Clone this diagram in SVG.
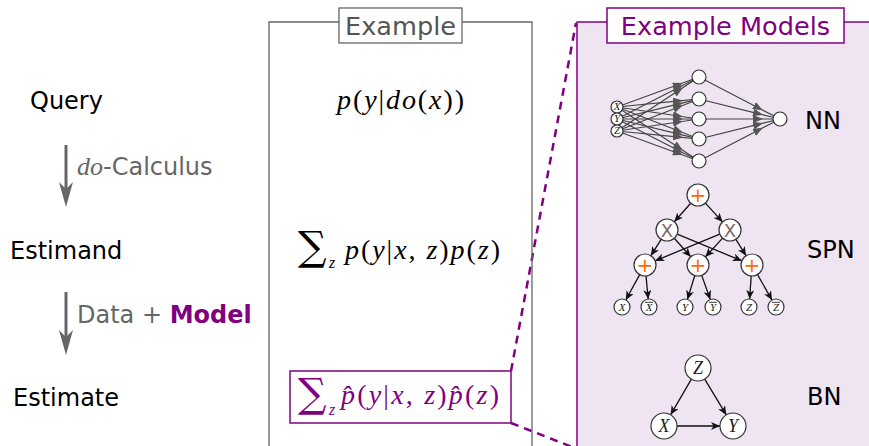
<svg xmlns="http://www.w3.org/2000/svg" width="869" height="446" viewBox="0 0 869 446">
<style>
.lbl{font-family:"DejaVu Sans",sans-serif;font-size:24px;fill:#000}
.glbl{font-family:"DejaVu Sans",sans-serif;font-size:24px;fill:#666}
.math{font-family:"Liberation Serif",serif;font-size:28px}
.mi{font-style:italic}
.node{fill:#fff;stroke:#333;stroke-width:1.2}
.nne{stroke:#444;stroke-width:1.2;fill:none;marker-mid:url(#nnarrow)}
.spe{stroke:#111;stroke-width:1.3;fill:none;marker-end:url(#sparrow)}
.leaf{font-family:"Liberation Serif",serif;font-style:italic;font-size:11px;fill:#222;text-anchor:middle}
.bnl{font-family:"Liberation Serif",serif;font-style:italic;font-size:18px;fill:#222;text-anchor:middle}
.plus{font-family:"DejaVu Sans",sans-serif;font-size:20px;fill:#ff6a00;text-anchor:middle}
.times{font-family:"DejaVu Sans",sans-serif;font-size:18px;fill:#806868;text-anchor:middle}
.purple{fill:#800080}
.sum{font-family:"DejaVu Serif",serif;font-size:40px}
</style>
<defs>
<marker id="nnarrow" markerUnits="userSpaceOnUse" markerWidth="12" markerHeight="10" refX="9" refY="4" orient="auto">
<path d="M0,0 L10,4 L0,8 Z" fill="#555"/>
</marker>
<marker id="sparrow" markerUnits="userSpaceOnUse" markerWidth="12" markerHeight="10" refX="9" refY="4" orient="auto">
<path d="M0,0 L9,4 L0,8 L2.5,4 Z" fill="#111"/>
</marker>
</defs>

<g id="left-labels">
<text class="lbl" x="30" y="109">Query</text>
<text class="lbl" x="10" y="259">Estimand</text>
<text class="lbl" x="13" y="406">Estimate</text>
</g>

<g id="connectors">
<g id="arrow-do">
<line x1="66" y1="145" x2="66" y2="195" stroke="#666" stroke-width="3"/>
<path d="M66,207 L59,182 L66,189 L73,182 Z" fill="#666"/>
<text class="glbl" x="77" y="175"><tspan font-family="Liberation Serif" font-style="italic" font-size="26">do</tspan>-Calculus</text>
</g>
<g id="arrow-data">
<line x1="66" y1="292" x2="66" y2="343" stroke="#666" stroke-width="3"/>
<path d="M66,355 L59,330 L66,337 L73,330 Z" fill="#666"/>
<text class="glbl" x="77" y="323">Data + <tspan font-weight="bold" fill="#800080">Model</tspan></text>
</g>
<g id="zoom-lines" stroke="#800080" stroke-width="2.5" stroke-dasharray="8,6" fill="none">
<line x1="511" y1="371" x2="576" y2="23"/>
<line x1="511" y1="423" x2="580" y2="450"/>
</g>
</g>

<g id="example-panel">
<path d="M269,446 V22 H339 M462,22 H532 V446" fill="none" stroke="#666" stroke-width="1.3"/>
<rect x="339" y="8" width="123" height="35" fill="#fff" stroke="#666" stroke-width="1.3"/>
<text x="400.5" y="35" text-anchor="middle" font-family="DejaVu Sans,sans-serif" font-size="25.6" fill="#555">Example</text>
</g>

<g id="query-formula">
<text class="math" x="337" y="109" textLength="127" lengthAdjust="spacing"><tspan class="mi">p</tspan>(<tspan class="mi">y</tspan>|<tspan class="mi">do</tspan>(<tspan class="mi">x</tspan>))</text>
</g>

<g id="estimand-formula">
<text x="298" y="260" class="sum">∑</text>
<text x="329" y="268" class="mi" font-family="Liberation Serif,serif" font-size="16">z</text>
<text class="math" x="345" y="259" textLength="155" lengthAdjust="spacing"><tspan class="mi">p</tspan>(<tspan class="mi">y</tspan>|<tspan class="mi">x</tspan>, <tspan class="mi">z</tspan>)<tspan class="mi">p</tspan>(<tspan class="mi">z</tspan>)</text>
</g>

<g id="estimate-formula">
<rect x="290" y="371" width="221" height="52" fill="#fff" stroke="#800080" stroke-width="1.5"/>
<text x="298" y="407" class="sum purple">∑</text>
<text x="329" y="415" font-family="Liberation Serif,serif" font-size="16" font-style="italic" class="purple">z</text>
<text class="math purple" x="341" y="404" textLength="158" lengthAdjust="spacing"><tspan class="mi">p̂</tspan>(<tspan class="mi">y</tspan>|<tspan class="mi">x</tspan>, <tspan class="mi">z</tspan>)<tspan class="mi">p̂</tspan>(<tspan class="mi">z</tspan>)</text>
</g>

<g id="models-panel">
<rect x="577" y="22" width="320" height="440" fill="#efe4f1" stroke="#800080" stroke-width="1.5"/>
<rect x="607" y="8" width="237" height="35" fill="#fff" stroke="#800080" stroke-width="1.5"/>
<text x="725.5" y="35" text-anchor="middle" font-family="DejaVu Sans,sans-serif" font-size="25.6" fill="#800080">Example Models</text>
</g>

<g id="nn">
<g id="nn-edges">
<path class="nne" d="M617,107 L682,83.3 L699,77"/>
<path class="nne" d="M617,107 L682,100.7 L699,99"/>
<path class="nne" d="M617,107 L682,116.5 L699,119"/>
<path class="nne" d="M617,107 L682,132.3 L699,139"/>
<path class="nne" d="M617,107 L682,149.7 L699,161"/>
<path class="nne" d="M617,119 L682,85.8 L699,77"/>
<path class="nne" d="M617,119 L682,103.2 L699,99"/>
<path class="nne" d="M617,119 L682,119 L699,119"/>
<path class="nne" d="M617,119 L682,134.8 L699,139"/>
<path class="nne" d="M617,119 L682,152.2 L699,161"/>
<path class="nne" d="M617,131 L682,88.3 L699,77"/>
<path class="nne" d="M617,131 L682,105.7 L699,99"/>
<path class="nne" d="M617,131 L682,121.5 L699,119"/>
<path class="nne" d="M617,131 L682,137.3 L699,139"/>
<path class="nne" d="M617,131 L682,154.7 L699,161"/>
<path class="nne" d="M699,77 L762,109.7 L780,119"/>
<path class="nne" d="M699,99 L762,114.6 L780,119"/>
<path class="nne" d="M699,119 L762,119 L780,119" stroke="#aaa"/>
<path class="nne" d="M699,139 L762,123.4 L780,119"/>
<path class="nne" d="M699,161 L762,128.2 L780,119"/>
</g>
<g id="nn-input">
<circle class="node" cx="617" cy="107" r="6"/>
<circle class="node" cx="617" cy="119" r="6"/>
<circle class="node" cx="617" cy="131" r="6"/>
<text class="leaf" x="617" y="110" font-size="9">X</text>
<text class="leaf" x="617" y="122" font-size="9">Y</text>
<text class="leaf" x="617" y="134" font-size="9">Z</text>
</g>
<g id="nn-hidden">
<circle class="node" cx="699" cy="77" r="7"/>
<circle class="node" cx="699" cy="99" r="7"/>
<circle class="node" cx="699" cy="119" r="7"/>
<circle class="node" cx="699" cy="139" r="7"/>
<circle class="node" cx="699" cy="161" r="7"/>
</g>
<g id="nn-output"><circle class="node" cx="780" cy="119" r="7"/></g>
<text class="lbl" x="805" y="129">NN</text>
</g>

<g id="spn">
<g id="spn-edges">
<line class="spe" x1="690.7" y1="203.2" x2="674.3" y2="221.8"/>
<line class="spe" x1="705.4" y1="203.1" x2="722.6" y2="221.9"/>
<line class="spe" x1="661.1" y1="239.3" x2="650.9" y2="255.7"/>
<line class="spe" x1="674.3" y1="238.2" x2="690.7" y2="256.8"/>
<line class="spe" x1="677.2" y1="234.2" x2="741.8" y2="260.8"/>
<line class="spe" x1="719.8" y1="234.2" x2="655.2" y2="260.8"/>
<line class="spe" x1="722.6" y1="238.1" x2="705.4" y2="256.9"/>
<line class="spe" x1="735.9" y1="239.3" x2="746.1" y2="255.7"/>
<line class="spe" x1="639.7" y1="274.6" x2="625.8" y2="300"/>
<line class="spe" x1="646" y1="275.9" x2="648.2" y2="299"/>
<line class="spe" x1="694.8" y1="275.5" x2="687.4" y2="299.4"/>
<line class="spe" x1="701.7" y1="275.4" x2="710.3" y2="299.5"/>
<line class="spe" x1="751.2" y1="276" x2="749.6" y2="299"/>
<line class="spe" x1="757.5" y1="274.5" x2="772" y2="300.1"/>
</g>
<g id="spn-root"><circle class="node" cx="698" cy="195" r="11"/><text class="plus" x="698" y="202">+</text></g>
<g id="spn-prod1"><circle class="node" cx="667" cy="230" r="11"/><text class="times" x="667" y="236.5">X</text></g>
<g id="spn-prod2"><circle class="node" cx="730" cy="230" r="11"/><text class="times" x="730" y="236.5">X</text></g>
<g id="spn-sum1"><circle class="node" cx="645" cy="265" r="11"/><text class="plus" x="645" y="272">+</text></g>
<g id="spn-sum2"><circle class="node" cx="698" cy="265" r="11"/><text class="plus" x="698" y="272">+</text></g>
<g id="spn-sum3"><circle class="node" cx="752" cy="265" r="11"/><text class="plus" x="752" y="272">+</text></g>
<g id="spn-leaves">
<circle class="node" cx="622" cy="307" r="8"/><text class="leaf" x="622" y="311">X</text>
<circle class="node" cx="649" cy="307" r="8"/><text class="leaf" x="649" y="311">X</text><line x1="645" y1="302.3" x2="653" y2="302.3" stroke="#222" stroke-width="0.9"/>
<circle class="node" cx="685" cy="307" r="8"/><text class="leaf" x="685" y="311">Y</text>
<circle class="node" cx="713" cy="307" r="8"/><text class="leaf" x="713" y="311">Y</text><line x1="709" y1="302.3" x2="717" y2="302.3" stroke="#222" stroke-width="0.9"/>
<circle class="node" cx="749" cy="307" r="8"/><text class="leaf" x="749" y="311">Z</text>
<circle class="node" cx="776" cy="307" r="8"/><text class="leaf" x="776" y="311">Z</text><line x1="772" y1="302.3" x2="780" y2="302.3" stroke="#222" stroke-width="0.9"/>
</g>
<text class="lbl" x="807" y="258">SPN</text>
</g>

<g id="bn">
<g id="bn-edges">
<line class="spe" x1="691.4" y1="379.2" x2="670.6" y2="414.8"/>
<line class="spe" x1="704.7" y1="379.1" x2="726.3" y2="414.9"/>
<line class="spe" x1="677" y1="426" x2="720" y2="426" stroke-width="1.8"/>
</g>
<g id="bn-z"><circle class="node" cx="698" cy="368" r="13"/><text class="bnl" x="698" y="374">Z</text></g>
<g id="bn-x"><circle class="node" cx="664" cy="426" r="13"/><text class="bnl" x="664" y="432">X</text></g>
<g id="bn-y"><circle class="node" cx="733" cy="426" r="13"/><text class="bnl" x="733" y="432">Y</text></g>
<text class="lbl" x="807" y="405">BN</text>
</g>
</svg>
